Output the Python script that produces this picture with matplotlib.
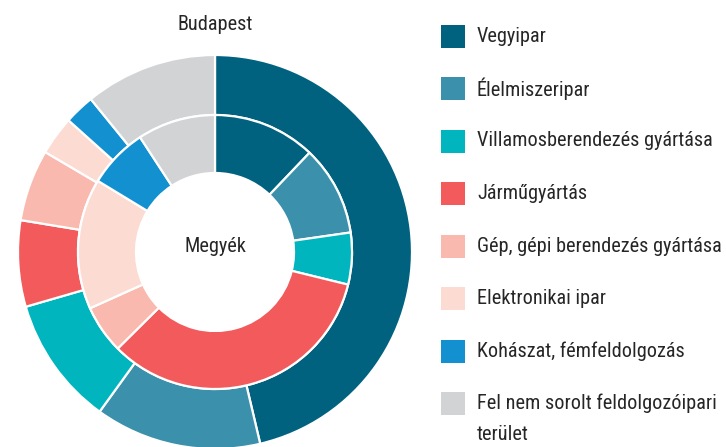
import matplotlib
matplotlib.use("Agg")
import matplotlib.pyplot as plt
from matplotlib import font_manager
from matplotlib.patches import Rectangle

# ---- data ----
categories = [
    "Vegyipar",
    "Élelmiszeripar",
    "Villamosberendezés gyártása",
    "Járműgyártás",
    "Gép, gépi berendezés gyártása",
    "Elektronikai ipar",
    "Kohászat, fémfeldolgozás",
    "Fel nem sorolt feldolgozóipari\nterület",
]
budapest = [46.5, 13.7, 10.6, 7.1, 5.9, 3.2, 2.5, 10.9]
megyek = [12.1, 10.6, 6.1, 33.7, 5.7, 15.4, 7.1, 9.2]
colors = ["#00627f", "#3b91ab", "#00b5bd", "#f25a5b",
          "#f9b9ae", "#fcdbd3", "#1390d0", "#d1d3d5"]
outer_title = "Budapest"
inner_title = "Megyék"

# ---- font ----
names = {f.name for f in font_manager.fontManager.ttflist}
prefs = ["Roboto Condensed", "Open Sans Condensed", "IBM Plex Sans Condensed",
         "Liberation Sans Narrow"]
fam = "DejaVu Sans"
for n in prefs:
    if n in names:
        fam = n
        break
plt.rcParams["font.family"] = [fam, "DejaVu Sans"]
txt_color = "#262626"

W, H = 726, 447
fig = plt.figure(figsize=(W / 100, H / 100), dpi=100)
ax = fig.add_axes([0, 0, 1, 1])

cx, cy = 215, H - 252
R_out, R_mid, R_in = 197, 137, 79

ax.pie(budapest, colors=colors, radius=R_out, center=(cx, cy),
       startangle=90, counterclock=False,
       wedgeprops=dict(width=R_out - R_mid, edgecolor="white", linewidth=1.6))
ax.pie(megyek, colors=colors, radius=R_mid, center=(cx, cy),
       startangle=90, counterclock=False,
       wedgeprops=dict(width=R_mid - R_in, edgecolor="white", linewidth=1.6))
ax.set_xlim(0, W)
ax.set_ylim(0, H)
ax.set_aspect("equal")
ax.axis("off")

fs0 = 16
texts = []
texts.append(ax.text(cx, H - 24, outer_title, ha="center", va="center",
                     fontsize=fs0, color=txt_color))
texts.append(ax.text(cx, H - 246, inner_title, ha="center", va="center",
                     fontsize=fs0, color=txt_color))

# ---- legend ----
y0, dy = 36, 52.5
leg_texts = []
for i, (lab, col) in enumerate(zip(categories, colors)):
    yc = H - (y0 + i * dy)
    ax.add_patch(Rectangle((441, yc - 11.5), 24, 23, facecolor=col,
                           edgecolor="none"))
    parts = lab.split("\n")
    for j, p in enumerate(parts):
        t = ax.text(477, yc - 31 * j, p, ha="left", va="center", fontsize=fs0,
                    color=txt_color)
        leg_texts.append(t)

# fit the longest legend line into the available width
r = fig.canvas.get_renderer()
maxw = max(t.get_window_extent(r).width for t in leg_texts)
avail = 245
fs = min(fs0, fs0 * avail / maxw)
for t in leg_texts + texts:
    t.set_fontsize(fs)

fig.savefig("out.png", dpi=100)
